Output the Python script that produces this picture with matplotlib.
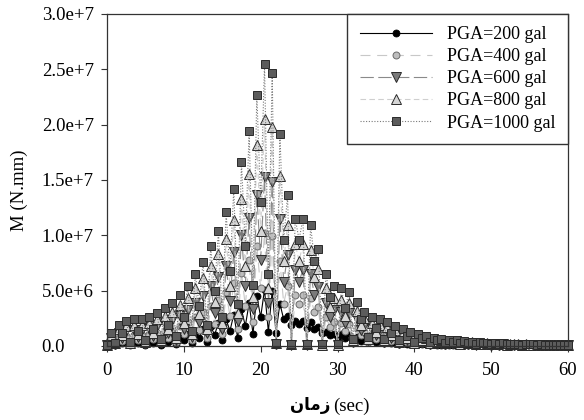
import numpy as np
import matplotlib
matplotlib.use('Agg')
import matplotlib.pyplot as plt

# time axis (sec), sampled every 0.5 s
time_s = np.arange(0, 60.5, 0.5)

# Moment values in 1e6 N.mm
m_200 = [0.02, 0.24, 0.06, 0.38, 0.24, 0.46, 0.08, 0.48, 0.28, 0.48,
         0.1, 0.52, 0.3, 0.6, 0.12, 0.68, 0.38, 0.78, 0.18, 0.92,
         0.52, 1.08, 0.28, 1.3, 0.72, 1.52, 0.38, 1.8, 1.0, 2.08,
         0.52, 2.42, 1.36, 2.84, 0.76, 3.32, 1.8, 3.88, 1.1, 4.54,
         2.6, 5.1, 1.3, 4.94, 1.2, 3.84, 2.4, 2.72, 1.9, 2.3,
         2.0, 2.3, 1.6, 2.18, 1.54, 1.76, 1.15, 1.3, 0.95, 1.08,
         0.8, 1.04, 0.68, 0.98, 0.55, 0.8, 0.48, 0.62, 0.4, 0.52,
         0.32, 0.48, 0.26, 0.44, 0.24, 0.36, 0.2, 0.3, 0.18, 0.26,
         0.14, 0.22, 0.14, 0.18, 0.1, 0.15, 0.1, 0.13, 0.08, 0.11,
         0.08, 0.1, 0.06, 0.09, 0.06, 0.08, 0.05, 0.07, 0.05, 0.06,
         0.04, 0.06, 0.04, 0.05, 0.03, 0.04, 0.03, 0.04, 0.02, 0.04,
         0.03, 0.03, 0.02, 0.03, 0.02, 0.03, 0.02, 0.02, 0.02, 0.02,
         0.02]
m_400 = [0.04, 0.48, 0.12, 0.76, 0.48, 0.92, 0.16, 0.96, 0.56, 0.96,
         0.2, 1.04, 0.6, 1.2, 0.24, 1.36, 0.76, 1.56, 0.36, 1.84,
         1.04, 2.16, 0.56, 2.6, 1.44, 3.04, 0.76, 3.6, 2.0, 4.16,
         1.04, 4.84, 2.72, 5.68, 1.52, 6.64, 3.6, 7.76, 2.2, 9.08,
         5.2, 10.2, 2.6, 9.9, 0.12, 7.7, 3.84, 5.44, 0.08, 4.6,
         3.84, 4.6, 0.08, 4.36, 3.08, 3.52, 0.06, 2.6, 1.76, 2.16,
         0.06, 2.08, 1.36, 1.96, 0.24, 1.6, 0.96, 1.24, 0.32, 1.04,
         0.64, 0.96, 0.24, 0.88, 0.48, 0.72, 0.2, 0.6, 0.36, 0.52,
         0.16, 0.44, 0.28, 0.36, 0.14, 0.3, 0.2, 0.26, 0.12, 0.22,
         0.16, 0.2, 0.1, 0.18, 0.12, 0.16, 0.08, 0.14, 0.1, 0.12,
         0.07, 0.11, 0.08, 0.1, 0.06, 0.09, 0.07, 0.08, 0.05, 0.07,
         0.06, 0.06, 0.04, 0.06, 0.05, 0.05, 0.04, 0.05, 0.04, 0.04,
         0.03]
m_600 = [0.06, 0.7, 0.18, 1.15, 0.7, 1.4, 0.24, 1.45, 0.85, 1.45,
         0.3, 1.55, 0.9, 1.8, 0.36, 2.05, 1.15, 2.35, 0.55, 2.75,
         1.55, 3.25, 0.85, 3.9, 2.15, 4.55, 1.15, 5.4, 3.0, 6.25,
         1.55, 7.25, 4.1, 8.5, 2.3, 10.0, 5.4, 11.6, 3.3, 13.6,
         7.8, 15.3, 3.9, 14.8, 0.18, 11.5, 5.8, 8.2, 0.12, 6.9,
         5.8, 6.9, 0.12, 6.5, 4.6, 5.3, 0.09, 3.9, 2.6, 3.25,
         0.09, 3.1, 2.05, 2.95, 0.36, 2.4, 1.45, 1.85, 0.5, 1.55,
         0.95, 1.45, 0.36, 1.3, 0.7, 1.1, 0.3, 0.9, 0.55, 0.8,
         0.24, 0.65, 0.42, 0.55, 0.21, 0.45, 0.3, 0.39, 0.18, 0.33,
         0.24, 0.3, 0.15, 0.27, 0.18, 0.24, 0.12, 0.21, 0.15, 0.18,
         0.11, 0.17, 0.12, 0.15, 0.09, 0.13, 0.1, 0.12, 0.07, 0.11,
         0.08, 0.1, 0.06, 0.09, 0.07, 0.08, 0.05, 0.07, 0.06, 0.06,
         0.05]
m_800 = [0.08, 0.95, 0.25, 1.5, 0.95, 1.85, 0.3, 1.9, 1.1, 1.9,
         0.4, 2.1, 1.2, 2.4, 0.5, 2.7, 1.5, 3.1, 0.7, 3.7,
         2.1, 4.3, 1.1, 5.2, 2.9, 6.1, 1.5, 7.2, 4.0, 8.3,
         2.1, 9.7, 5.4, 11.4, 3.0, 13.3, 7.2, 15.5, 4.4, 18.2,
         10.4, 20.5, 5.2, 19.8, 0.25, 15.4, 7.7, 10.9, 0.15, 9.2,
         7.7, 9.2, 0.15, 8.7, 6.2, 7.0, 0.12, 5.2, 3.5, 4.3,
         0.12, 4.2, 2.7, 3.9, 0.5, 3.2, 1.9, 2.5, 0.65, 2.1,
         1.3, 1.9, 0.5, 1.75, 0.95, 1.45, 0.4, 1.2, 0.7, 1.05,
         0.3, 0.9, 0.55, 0.7, 0.28, 0.6, 0.4, 0.52, 0.24, 0.44,
         0.32, 0.4, 0.2, 0.36, 0.24, 0.32, 0.16, 0.28, 0.2, 0.24,
         0.14, 0.22, 0.16, 0.2, 0.12, 0.18, 0.14, 0.16, 0.1, 0.14,
         0.11, 0.13, 0.08, 0.12, 0.1, 0.1, 0.07, 0.1, 0.08, 0.08,
         0.06]
m_1000 = [0.1, 1.2, 0.3, 1.9, 1.2, 2.3, 0.4, 2.4, 1.4, 2.4,
          0.5, 2.6, 1.5, 3.0, 0.6, 3.4, 1.9, 3.9, 0.9, 4.6,
          2.6, 5.4, 1.4, 6.5, 3.6, 7.6, 1.9, 9.0, 5.0, 10.4,
          2.6, 12.1, 6.8, 14.2, 3.8, 16.6, 9.0, 19.4, 5.5, 22.7,
          13.0, 25.5, 6.5, 24.7, 0.3, 19.2, 9.6, 13.6, 0.2, 11.5,
          9.6, 11.5, 0.2, 10.9, 7.7, 8.8, 0.15, 6.5, 4.4, 5.4,
          0.15, 5.2, 3.4, 4.9, 0.6, 4.0, 2.4, 3.1, 0.8, 2.6,
          1.6, 2.4, 0.6, 2.2, 1.2, 1.8, 0.5, 1.5, 0.9, 1.3,
          0.4, 1.1, 0.7, 0.9, 0.35, 0.75, 0.5, 0.65, 0.3, 0.55,
          0.4, 0.5, 0.25, 0.45, 0.3, 0.4, 0.2, 0.35, 0.25, 0.3,
          0.18, 0.28, 0.2, 0.25, 0.15, 0.22, 0.17, 0.2, 0.12, 0.18,
          0.14, 0.16, 0.1, 0.15, 0.12, 0.13, 0.09, 0.12, 0.1, 0.1,
          0.08]

series_labels = ['PGA=200 gal', 'PGA=400 gal', 'PGA=600 gal',
                 'PGA=800 gal', 'PGA=1000 gal']
series_values = [m_200, m_400, m_600, m_800, m_1000]

xticks = [0, 10, 20, 30, 40, 50, 60]
yticks = [0, 5e6, 1e7, 1.5e7, 2e7, 2.5e7, 3e7]
ytick_labels = ['0.0', '5.0e+6', '1.0e+7', '1.5e+7', '2.0e+7', '2.5e+7', '3.0e+7']

styles = [
    dict(color='black', ls='-', marker='o', mfc='black', mec='black', ms=5.0, mew=0.6),
    dict(color='#c8c8c8', ls=(0, (9, 6)), marker='o', mfc='#bdbdbd', mec='#6a6a6a', ms=5.0, mew=0.7),
    dict(color='#8a8a8a', ls=(0, (12, 4)), marker='v', mfc='#7a7a7a', mec='#2a2a2a', ms=6.5, mew=0.7),
    dict(color='#cfcfcf', ls=(0, (5, 3)), marker='^', mfc='#d6d6d6', mec='#2a2a2a', ms=6.5, mew=0.7),
    dict(color='#7a7a7a', ls=(0, (1, 1.5)), marker='s', mfc='#5c5c5c', mec='#2a2a2a', ms=5.5, mew=0.7),
]

plt.rcParams['font.family'] = ['Liberation Serif', 'DejaVu Sans']

fig = plt.figure(figsize=(5.84, 4.2), dpi=100)
ax = fig.add_axes([107/584, 1-346/420, 461/584, 332/420])

for vals, lab, st in zip(series_values, series_labels, styles):
    ax.plot(time_s, np.array(vals) * 1e6, label=lab, lw=0.8, clip_on=False, **st)

ax.set_xlim(0, 60)
ax.set_ylim(0, 3e7)
ax.set_xticks(xticks)
ax.set_xticklabels([str(v) for v in xticks], fontsize=13.5)
ax.set_yticks(yticks)
ax.set_yticklabels(ytick_labels, fontsize=13.5)
ax.tick_params(axis='both', direction='out', length=4.5, width=0.8, color='#333333')
ax.tick_params(axis='x', pad=7)
ax.tick_params(axis='y', pad=42.5)
for lbl in ax.get_yticklabels():
    lbl.set_horizontalalignment('left')
for sp in ax.spines.values():
    sp.set_linewidth(0.9)
    sp.set_color('#333333')

ax.set_ylabel('M (N.mm)', fontsize=13.5)
ax.yaxis.set_label_coords(-0.172, 0.47)

fig.text(330/584, 1-405/420, '\uFEE5\uFE8E\uFEE3\uFEAF', ha='right', va='center',
         fontsize=12, family='DejaVu Sans', fontweight='bold')
fig.text(333/584, 1-406/420, '(sec)', ha='left', va='center', fontsize=13.5,
         family='Liberation Serif')

leg = ax.legend(loc='upper right', bbox_to_anchor=(1, 1), borderaxespad=0,
                fontsize=13, handlelength=4.0, handletextpad=0.85,
                labelspacing=0.28, borderpad=0.68, fancybox=False, framealpha=1)
leg.get_frame().set_edgecolor('#333333')
leg.get_frame().set_linewidth(1.0)

fig.savefig('out.png', dpi=100)
